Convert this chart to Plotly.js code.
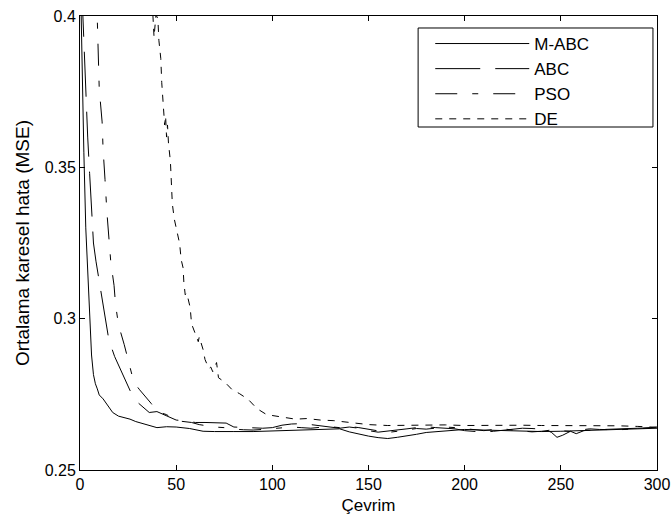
<!DOCTYPE html>
<html>
<head>
<meta charset="utf-8">
<script src="https://cdn.plot.ly/plotly-3.0.1.min.js"></script>
<style>html,body{margin:0;padding:0;background:#fff;}#chart{width:671px;height:525px;}</style>
</head>
<body>
<div id="chart"></div>
<script>
const seriesNames = ["M-ABC", "ABC", "PSO", "DE"];

const mabcX = [0, 1, 2, 3, 4, 5, 6, 7, 8, 9, 10, 12, 14, 17, 20, 23, 26, 29, 33, 37, 40, 45, 50, 57, 64, 70, 75, 80, 90, 100, 110, 120, 130, 135, 140, 145, 150, 155, 160, 165, 170, 175, 180, 190, 200, 210, 220, 230, 240, 250, 260, 270, 280, 290, 300];
const mabcY = [0.42, 0.385, 0.355, 0.33, 0.315, 0.298, 0.288, 0.2815, 0.2785, 0.2768, 0.2748, 0.2735, 0.2717, 0.269, 0.2678, 0.2674, 0.2668, 0.266, 0.2652, 0.2644, 0.264, 0.2643, 0.2642, 0.2637, 0.2628, 0.2627, 0.2626, 0.2627, 0.2627, 0.2629, 0.2631, 0.2633, 0.2637, 0.2636, 0.2626, 0.2618, 0.2612, 0.2607, 0.2604, 0.2608, 0.2612, 0.2618, 0.2624, 0.263, 0.2634, 0.2632, 0.263, 0.2628, 0.2627, 0.2628, 0.263, 0.2632, 0.2634, 0.2636, 0.2638];

const abcX = [1, 2, 3, 4, 5, 6, 7, 8.3, 10, 12, 13.5, 15, 18, 20.5, 23.5, 26.5, 30, 33, 36, 40, 45, 50, 55, 60, 65, 70, 76, 80, 88, 95, 100, 105, 110, 115, 120, 125, 130, 135, 140, 145, 150, 155, 160, 165, 170, 175, 180, 185, 190, 195, 200, 205, 210, 215, 220, 225, 230, 235, 240, 245, 248, 251, 255, 258, 262, 268, 275, 280, 290, 300];
const abcY = [0.408, 0.39, 0.375, 0.36, 0.348, 0.336, 0.325, 0.319, 0.312, 0.304, 0.299, 0.293, 0.2875, 0.284, 0.2797, 0.2756, 0.2723, 0.2705, 0.269, 0.2693, 0.268, 0.2665, 0.2662, 0.2657, 0.2657, 0.2656, 0.2655, 0.2642, 0.264, 0.2638, 0.264, 0.2648, 0.2652, 0.2653, 0.265, 0.2645, 0.2642, 0.2638, 0.2642, 0.2638, 0.263, 0.2625, 0.2628, 0.2632, 0.2636, 0.264, 0.2643, 0.264, 0.2638, 0.2636, 0.263, 0.2627, 0.2625, 0.2628, 0.2632, 0.2636, 0.2638, 0.2637, 0.2635, 0.2625, 0.2608, 0.2615, 0.2628, 0.262, 0.263, 0.2633, 0.2635, 0.2637, 0.2638, 0.264];

const psoX = [8.5, 9, 10, 11.5, 12, 13, 14, 16, 17.7, 18.5, 20, 23, 25.5, 28, 31, 34, 37, 40, 45, 50, 58, 62, 66, 70, 75, 80, 85, 90, 95, 100, 105, 110, 115, 120, 125, 130, 135, 140, 145, 150, 155, 160, 165, 170, 175, 180, 185, 190, 195, 200, 205, 210, 215, 220, 225, 230, 235, 240, 245, 250, 255, 260, 265, 270, 280, 290, 300];
const psoY = [0.41, 0.4, 0.376, 0.365, 0.356, 0.346, 0.335, 0.3188, 0.311, 0.3046, 0.298, 0.2914, 0.2855, 0.279, 0.2765, 0.2743, 0.272, 0.2693, 0.2683, 0.2663, 0.2657, 0.265, 0.2645, 0.2642, 0.264, 0.2635, 0.2633, 0.2632, 0.2634, 0.2636, 0.264, 0.2642, 0.264, 0.2638, 0.2641, 0.2643, 0.264, 0.2644, 0.264, 0.2635, 0.263, 0.2624, 0.2628, 0.2633, 0.2637, 0.2635, 0.2638, 0.2642, 0.264, 0.2637, 0.2633, 0.263, 0.2634, 0.2636, 0.2632, 0.2628, 0.2626, 0.2628, 0.2632, 0.263, 0.2627, 0.2632, 0.2636, 0.2634, 0.2633, 0.2636, 0.2642];

const deX = [37.5, 38, 38.5, 39.5, 40.5, 41, 42, 42.5, 43, 43.5, 44, 44.5, 45, 45.5, 46, 47, 47.5, 48, 49, 50.5, 51.8, 52.6, 53.6, 54, 54.7, 55.5, 57.3, 58, 60, 61.5, 62, 64, 65, 67, 68, 69, 71, 72, 75.5, 79, 83, 87.5, 92, 97, 103, 107, 112, 118, 125, 132, 140, 150, 160, 170, 180, 190, 200, 210, 220, 230, 240, 250, 260, 270, 280, 290, 300];
const deY = [0.405, 0.398, 0.393, 0.4005, 0.399, 0.392, 0.386, 0.378, 0.373, 0.368, 0.364, 0.367, 0.36, 0.364, 0.358, 0.352, 0.345, 0.338, 0.333, 0.3287, 0.3248, 0.3195, 0.3168, 0.312, 0.3079, 0.3085, 0.3036, 0.2983, 0.295, 0.2924, 0.294, 0.2898, 0.2865, 0.2835, 0.284, 0.2825, 0.2855, 0.2805, 0.2789, 0.2766, 0.2752, 0.2733, 0.2703, 0.2683, 0.2677, 0.2672, 0.2668, 0.267, 0.2665, 0.2663, 0.2657, 0.265, 0.2647, 0.2648, 0.265, 0.2649, 0.2647, 0.2648, 0.2649, 0.2648, 0.2647, 0.2647, 0.2648, 0.2647, 0.2646, 0.2644, 0.2641];

const xTicks = [0, 50, 100, 150, 200, 250, 300];
const yTicks = [0.25, 0.3, 0.35, 0.4];
const yTickText = ["0.25", "0.3", "0.35", "0.4"];

const FONT = "Liberation Sans, Arial, Helvetica, sans-serif";
const dashes = ["solid", "45px,15px", "22px,15px,6px,15px", "7px,7px"];
const xs = [mabcX, abcX, psoX, deX];
const ys = [mabcY, abcY, psoY, deY];

const traces = seriesNames.map((n, i) => ({
  x: xs[i], y: ys[i], name: n, type: "scatter", mode: "lines",
  legendgroup: "g" + i,
  line: {color: "#000", width: 1, dash: dashes[i]}
}));

const layout = {
  width: 671, height: 525,
  margin: {l: 80, r: 14, t: 16, b: 55},
  paper_bgcolor: "#fff", plot_bgcolor: "#fff",
  font: {family: FONT, size: 16, color: "#000"},
  showlegend: true,
  legend: {
    x: 0.607, y: 0.978, xanchor: "left", yanchor: "top",
    bgcolor: "rgba(255,255,255,0)", borderwidth: 0,
    itemwidth: 94, tracegroupgap: 0,
    font: {family: FONT, size: 17, color: "#000"}
  },
  shapes: [{type: "rect", xref: "paper", yref: "paper", x0: 0.586, x1: 0.993, y0: 0.7555, y1: 0.9736,
    line: {color: "#000", width: 1}, fillcolor: "rgba(255,255,255,0)", layer: "above"}],
  xaxis: {
    range: [0, 300], tickvals: xTicks, ticks: "inside", ticklen: 5, tickcolor: "#000",
    showline: true, linecolor: "#000", linewidth: 1, mirror: "ticks",
    showgrid: false, zeroline: false,
    tickfont: {family: FONT, size: 16},
    title: {text: "Çevrim", font: {family: FONT, size: 17}, standoff: 6}
  },
  yaxis: {
    range: [0.25, 0.4], tickvals: yTicks, ticktext: yTickText, ticks: "inside", ticklen: 5, tickcolor: "#000",
    showline: true, linecolor: "#000", linewidth: 1, mirror: "ticks",
    showgrid: false, zeroline: false,
    tickfont: {family: FONT, size: 16},
    title: {text: "Ortalama karesel hata (MSE)", font: {family: FONT, size: 19}, standoff: 10}
  }
};

Plotly.newPlot("chart", traces, layout, {staticPlot: true, displayModeBar: false});
</script>
</body>
</html>
